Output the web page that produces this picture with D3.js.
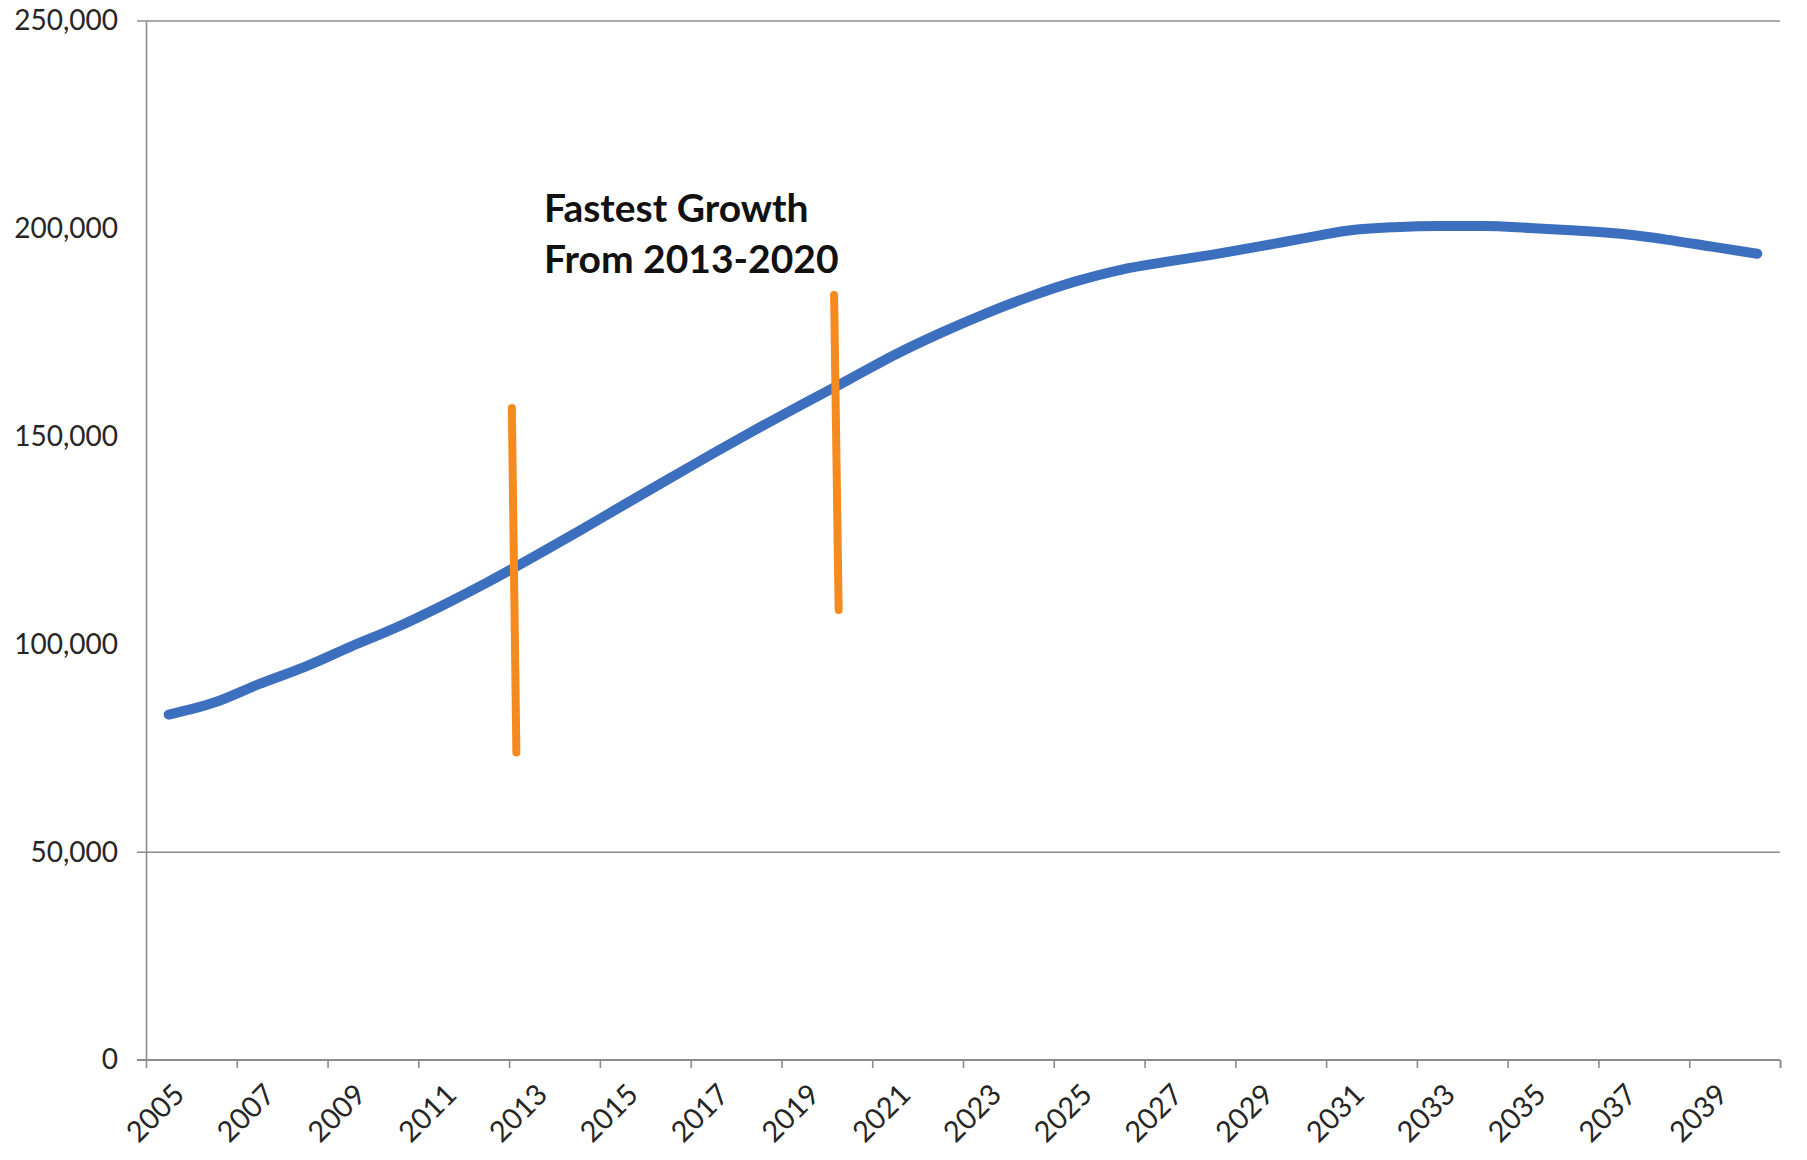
<!DOCTYPE html>
<html>
<head>
<meta charset="utf-8">
<script src="https://cdn.jsdelivr.net/npm/d3@7"></script>
<style>
  html, body { margin: 0; padding: 0; background: #ffffff; }
  svg { display: block; }
</style>
</head>
<body>
<svg id="chart" width="1807" height="1160"></svg>
<script>
// ---- data ----
const years = d3.range(2005, 2041);
const values = [
  83100, 86000, 90500, 94600, 99400, 104000, 109200, 114800, 120800, 127000,
  133400, 139700, 146000, 152100, 158000, 163800, 169700, 174900, 179600, 183800,
  187400, 190200, 192100, 193800, 195700, 197700, 199600, 200400, 200700, 200700,
  200200, 199600, 198800, 197400, 195700, 194000
];
const yTicks = [0, 50000, 100000, 150000, 200000, 250000];
const gridValues = [50000, 250000];
const xLabelYears = d3.range(2005, 2041, 2);
const annotationLines = ["Fastest Growth", "From 2013-2020"];
// hand-drawn orange markers: [x year (fractional) top, bottom], [value top, bottom]
const markerX = [[2012.56, 2012.66], [2019.66, 2019.76]];
const markerY = [[156900, 74000], [184100, 108300]];

// ---- layout ----
const svg = d3.select("#chart");
const plotLeft = 146, plotRight = 1780, plotTop = 21, plotBottom = 1060;

const x = d3.scaleLinear().domain([2004.5, 2040.5]).range([plotLeft, plotRight]);
const y = d3.scaleLinear().domain([0, 250000]).range([plotBottom, plotTop]);

const axisColor = "#8c8c8c";
const textColor = "#262626";
const font = "Lato, 'Open Sans', sans-serif";

// gridlines (only the visible ones)
svg.append("g").selectAll("line").data(gridValues).join("line")
  .attr("x1", plotLeft - 9).attr("x2", plotRight)
  .attr("y1", d => y(d)).attr("y2", d => y(d))
  .attr("stroke", axisColor).attr("stroke-width", 1.6);

// y axis
const yAxis = d3.axisLeft(y).tickValues(yTicks).tickSize(0).tickPadding(28)
  .tickFormat(d3.format(","));
const gy = svg.append("g").attr("transform", `translate(${plotLeft},0)`).call(yAxis);
gy.select(".domain").attr("stroke", axisColor).attr("stroke-width", 1.6);
gy.selectAll("text").attr("font-family", font).attr("font-size", 28)
  .attr("fill", textColor);

// x axis line + ticks (between categories)
const xTickPos = d3.range(2004.5, 2041, 2).concat([2040.5]);
const xAxis = d3.axisBottom(x).tickValues(xTickPos).tickSize(8).tickFormat("");
const gx = svg.append("g").attr("transform", `translate(0,${plotBottom})`).call(xAxis);
gx.select(".domain").attr("stroke", axisColor).attr("stroke-width", 1.8)
  .attr("d", `M${plotLeft - 9},0H${plotRight}`);
gx.selectAll(".tick line").attr("stroke", axisColor).attr("stroke-width", 1.6);

// x labels rotated
svg.append("g").selectAll("text").data(xLabelYears).join("text")
  .attr("transform", d => `translate(${x(d) + 3},${plotBottom + 22}) rotate(-45)`)
  .attr("text-anchor", "end")
  .attr("dy", "0.7em")
  .attr("font-family", font).attr("font-size", 29).attr("fill", textColor)
  .text(d => d);

// main line
const line = d3.line().x((d, i) => x(years[i])).y(d => y(d)).curve(d3.curveMonotoneX);
svg.append("path").datum(values)
  .attr("d", line)
  .attr("fill", "none")
  .attr("stroke", "#3d6fbf")
  .attr("stroke-width", 10)
  .attr("stroke-linecap", "round")
  .attr("stroke-linejoin", "round");

// orange markers
svg.append("g").selectAll("line").data(markerX).join("line")
  .attr("x1", d => x(d[0])).attr("x2", d => x(d[1]))
  .attr("y1", (d, i) => y(markerY[i][0])).attr("y2", (d, i) => y(markerY[i][1]))
  .attr("stroke", "#f58a1f").attr("stroke-width", 8).attr("stroke-linecap", "round");

// annotation text
svg.append("g").selectAll("text").data(annotationLines).join("text")
  .attr("x", 544).attr("y", (d, i) => 222 + i * 51)
  .attr("font-family", font).attr("font-weight", "bold").attr("font-size", 39)
  .attr("fill", "#111111")
  .text(d => d);
</script>
</body>
</html>
